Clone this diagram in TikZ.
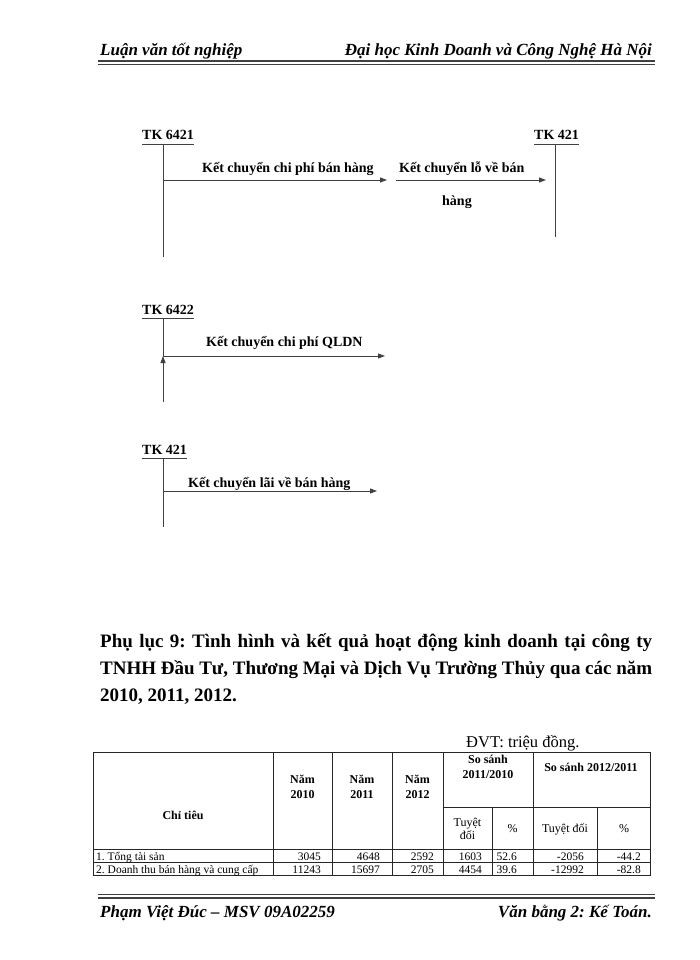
\documentclass[tikz,border=0pt]{standalone}
\usepackage{fontspec}
\setmainfont{Liberation Serif}
\usetikzlibrary{arrows.meta}
\begin{document}
\frenchspacing
\begin{tikzpicture}[x=1pt,y=-1pt,
  hdr/.style={font=\fontsize{17}{19}\selectfont\bfseries\itshape, inner sep=0pt},
  lbl/.style={font=\fontsize{14}{16}\selectfont\bfseries, inner sep=0pt, anchor=base west},
  ln/.style={draw=black!75, line width=0.9pt},
  arr/.style={ln, -{Triangle[length=7pt,width=5pt]}},
  ttl/.style={font=\fontsize{19}{22}\selectfont\bfseries, inner sep=0pt, anchor=base west},
  th/.style={font=\fontsize{12}{15}\selectfont\bfseries, inner sep=0pt, align=center},
  tr/.style={font=\fontsize{12}{13}\selectfont, inner sep=0pt, align=center},
  td/.style={font=\fontsize{11.5}{13}\selectfont, inner sep=0pt, anchor=base east},
  tg/.style={draw=black!85, line width=0.8pt},
  rule/.style={draw=black!75}
]
\useasboundingbox[fill=white] (0,0) rectangle (700,960);

% header
\node[hdr, anchor=base west] (h1) at (100,56) {Luận văn tốt nghiệp};
\node[hdr, anchor=base east] (h2) at (652,56) {Đại học Kinh Doanh và Công Nghệ Hà Nội};
\coordinate (hl1) at (98,61); \coordinate (hr1) at (655,61);
\coordinate (hl2) at (98,64); \coordinate (hr2) at (655,64);
\draw[rule, line width=2pt] (hl1) -- (hr1);
\draw[rule, line width=0.7pt] (hl2) -- (hr2);

% diagram 1
\node[lbl] (k1) at (142,140) {TK 6421};
\draw[ln] ([yshift=-4pt]k1.base west) -- ([yshift=-4pt]k1.base east);
\coordinate (v1t) at (163,145); \coordinate (v1b) at (163,257);
\draw[ln] (v1t) -- (v1b);
\node[lbl] (k2) at (534,140) {TK 421};
\draw[ln] ([yshift=-4pt]k2.base west) -- ([yshift=-4pt]k2.base east);
\coordinate (v2t) at (555,145); \coordinate (v2b) at (555,237);
\draw[ln] (v2t) -- (v2b);
\coordinate (a1s) at (163,180); \coordinate (a1e) at (387,180);
\draw[arr] (a1s) -- (a1e);
\node[lbl] (l1) at (202,173) {Kết chuyển chi phí bán hàng};
\coordinate (a2s) at (396,180); \coordinate (a2e) at (546,180);
\draw[arr] (a2s) -- (a2e);
\node[lbl] (l2) at (399,173) {Kết chuyển lỗ về bán};
\node[lbl] (l2b) at (442,205) {hàng};

% diagram 2
\node[lbl] (k3) at (142,314) {TK 6422};
\draw[ln] ([yshift=-4pt]k3.base west) -- ([yshift=-4pt]k3.base east);
\coordinate (v3t) at (163,319); \coordinate (v3m) at (163,356); \coordinate (v3b) at (163,402);
\draw[ln] (v3t) -- (v3m);
\draw[arr] (v3b) -- (v3m);
\coordinate (a3e) at (385,356);
\draw[arr] (v3m) -- (a3e);
\node[lbl] (l3) at (206,346) {Kết chuyển chi phí QLDN};

% diagram 3
\node[lbl] (k4) at (142,454) {TK 421};
\draw[ln] ([yshift=-4pt]k4.base west) -- ([yshift=-4pt]k4.base east);
\coordinate (v4t) at (163,458); \coordinate (v4b) at (163,527);
\draw[ln] (v4t) -- (v4b);
\coordinate (a4s) at (163,491); \coordinate (a4e) at (377,491);
\draw[arr] (a4s) -- (a4e);
\node[lbl] (l4) at (188,487) {Kết chuyển lãi về bán hàng};

% title
\node[ttl] (t1) at (100,647) {\makebox[552pt][s]{Phụ lục 9: Tình hình và kết quả hoạt động kinh doanh tại công ty}};
\node[ttl] (t2) at (100,674) {\makebox[552pt][s]{TNHH Đầu Tư, Thương Mại và Dịch Vụ Trường Thủy qua các năm}};
\node[ttl] (t3) at (100,701) {2010, 2011, 2012.};

\node[font=\fontsize{16.5}{18}\selectfont, inner sep=0pt, anchor=base west] (dvt) at (466,747) {ĐVT: triệu đồng.};

% table grid
\draw[tg] (93,752) rectangle (650,875);
\foreach \x in {273,332,392,443,533} \draw[tg] (\x,752) -- (\x,875);
\foreach \x in {492,597} \draw[tg] (\x,807) -- (\x,875);
\draw[tg] (443,807) -- (650,807);
\draw[tg] (93,849) -- (650,849);
\draw[tg] (93,862) -- (650,862);

% table header
\node[th] (n10) at (302.5,787) {Năm\\2010};
\node[th] (n11) at (362,787) {Năm\\2011};
\node[th] (n12) at (417.5,787) {Năm\\2012};
\node[th] (s1) at (488,767) {So sánh\\2011/2010};
\node[th] (s2) at (591,767) {So sánh 2012/2011};
\node[th] (ct) at (183,815) {Chỉ tiêu};
\node[tr] (tu1) at (467.5,829) {Tuyệt\\đối};
\node[tr] (p1) at (512.5,829) {\%};
\node[tr] (tu2) at (565,829) {Tuyệt đối};
\node[tr] (p2) at (624,829) {\%};

% rows
\node[td, anchor=base west] (r1) at (96,860) {1. Tổng tài sản};
\node[td] (r1a) at (321,860) {3045};
\node[td] (r1b) at (380,860) {4648};
\node[td] (r1c) at (434,860) {2592};
\node[td] (r1d) at (482,860) {1603};
\node[td] (r1e) at (517,860) {52.6};
\node[td] (r1f) at (584,860) {-2056};
\node[td] (r1g) at (641,860) {-44.2};
\node[td, anchor=base west] (r2) at (96,873) {2. Doanh thu bán hàng và cung cấp};
\node[td] (r2a) at (321,873) {11243};
\node[td] (r2b) at (380,873) {15697};
\node[td] (r2c) at (434,873) {2705};
\node[td] (r2d) at (482,873) {4454};
\node[td] (r2e) at (517,873) {39.6};
\node[td] (r2f) at (584,873) {-12992};
\node[td] (r2g) at (641,873) {-82.8};

% footer
\coordinate (fl1) at (98,894.5); \coordinate (fr1) at (655,894.5);
\coordinate (fl2) at (98,897.5); \coordinate (fr2) at (655,897.5);
\draw[rule, line width=0.7pt] (fl1) -- (fr1);
\draw[rule, line width=2pt] (fl2) -- (fr2);
\node[hdr, anchor=base west] (f1) at (100,917) {Phạm Việt Đúc – MSV 09A02259};
\node[hdr, anchor=base east] (f2) at (652,917) {Văn bằng 2: Kế Toán.};
\end{tikzpicture}
\end{document}
